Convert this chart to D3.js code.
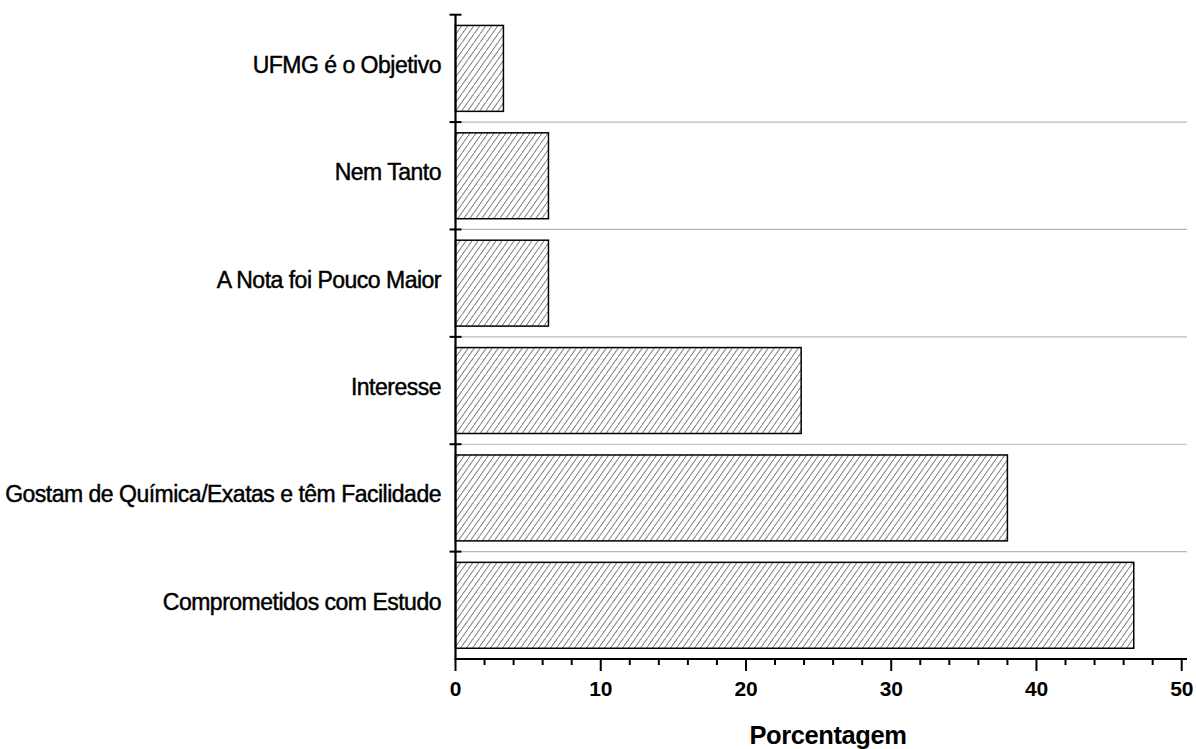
<!DOCTYPE html>
<html lang="pt">
<head>
  <meta charset="utf-8" />
  <style>
    body { margin: 0; background: #fff; }
    svg text { font-family: "Liberation Sans", Arial, sans-serif; fill: #000; }
  </style>
</head>
<body>
<div id="container"></div>
<script src="https://cdn.jsdelivr.net/npm/d3@7"></script>
<script>

const categories = [
  'UFMG é o Objetivo',
  'Nem Tanto',
  'A Nota foi Pouco Maior',
  'Interesse',
  'Gostam de Química/Exatas e têm Facilidade',
  'Comprometidos com Estudo'
];
const values = [3.3, 6.4, 6.4, 23.8, 38.0, 46.7];
const xTicks = [0, 10, 20, 30, 40, 50];
const xLabel = 'Porcentagem';

const W = 1196, H = 749;
const x0 = 455.5, x1 = 1181.7, xEnd = 1187;
const yTop = 14.7, yBot = 659;

const svg = d3.select('#container')
  .append('svg')
  .attr('width', W)
  .attr('height', H);

// hatch pattern
const defs = svg.append('defs');
defs.append('pattern')
  .attr('id', 'hatch')
  .attr('patternUnits', 'userSpaceOnUse')
  .attr('width', 6)
  .attr('height', 8.5)
  .append('path')
  .attr('d', 'M-1.5,10.6 L7.5,-2.1')
  .attr('stroke', '#555')
  .attr('stroke-width', 0.9)
  .attr('fill', 'none');

const x = d3.scaleLinear().domain([0, 50]).range([x0, x1]);
const y = d3.scaleBand().domain(categories).range([yTop, yBot]).paddingInner(0.2).paddingOuter(0.1);
const yb = d3.scaleBand().domain(categories).range([yTop, yBot]);

// gridlines at band boundaries
svg.append('g')
  .selectAll('line')
  .data(categories.slice(1))
  .join('line')
  .attr('x1', x0)
  .attr('x2', xEnd)
  .attr('y1', d => yb(d))
  .attr('y2', d => yb(d))
  .attr('stroke', '#b8b8b8')
  .attr('stroke-width', 1.2);

// bars
svg.append('g')
  .selectAll('rect')
  .data(categories)
  .join('rect')
  .attr('x', x(0))
  .attr('y', d => y(d))
  .attr('width', (d, i) => x(values[i]) - x(0))
  .attr('height', y.bandwidth())
  .attr('fill', 'url(#hatch)')
  .attr('stroke', '#000')
  .attr('stroke-width', 1.5);

// x axis
const minor = d3.range(0, 51, 2).filter(v => v % 10 !== 0);
const xg = svg.append('g');
xg.append('line')
  .attr('x1', x0 - 1).attr('x2', xEnd)
  .attr('y1', yBot).attr('y2', yBot)
  .attr('stroke', '#000').attr('stroke-width', 2.2);
xg.selectAll('.major')
  .data(xTicks)
  .join('line')
  .attr('x1', d => x(d)).attr('x2', d => x(d))
  .attr('y1', yBot).attr('y2', yBot + 12)
  .attr('stroke', '#000').attr('stroke-width', 2);
xg.selectAll('.minor')
  .data(minor)
  .join('line')
  .attr('x1', d => x(d)).attr('x2', d => x(d))
  .attr('y1', yBot).attr('y2', yBot + 6)
  .attr('stroke', '#000').attr('stroke-width', 2);
xg.selectAll('text')
  .data(xTicks)
  .join('text')
  .attr('x', d => x(d))
  .attr('y', 696)
  .attr('text-anchor', 'middle')
  .attr('font-size', 21)
  .attr('font-weight', 'bold')
  .attr('letter-spacing', -0.3)
  .text(d => d);

svg.append('text')
  .attr('x', 828)
  .attr('y', 744)
  .attr('text-anchor', 'middle')
  .attr('font-size', 25.5)
  .attr('font-weight', 'bold')
  .attr('letter-spacing', -0.4)
  .text(xLabel);

// y axis
const yg = svg.append('g');
yg.append('line')
  .attr('x1', x0).attr('x2', x0)
  .attr('y1', yTop).attr('y2', yBot + 1)
  .attr('stroke', '#000').attr('stroke-width', 2.2);
yg.selectAll('.tick')
  .data(categories)
  .join('line')
  .attr('x1', x0 - 6).attr('x2', x0 + 6)
  .attr('y1', d => yb(d)).attr('y2', d => yb(d))
  .attr('stroke', '#000').attr('stroke-width', 2);
yg.selectAll('text')
  .data(categories)
  .join('text')
  .attr('x', 441)
  .attr('y', d => yb(d) + yb.bandwidth() / 2 + 4.5)
  .attr('text-anchor', 'end')
  .attr('font-size', 23)
  .attr('letter-spacing', -0.5)
  .attr('stroke', '#000')
  .attr('stroke-width', 0.45)
  .text(d => d);

</script>
</body>
</html>
